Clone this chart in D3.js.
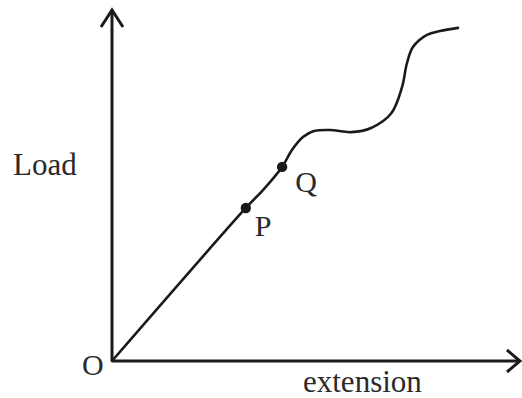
<!DOCTYPE html>
<html>
<head>
<meta charset="utf-8">
<script src="https://cdn.jsdelivr.net/npm/d3@7"></script>
<style>
  html, body { margin: 0; padding: 0; background: #fff; }
  svg { display: block; }
  text { font-family: "Liberation Serif", "Times New Roman", serif; fill: #2a2a2a; }
</style>
</head>
<body>
<svg id="chart" width="522" height="398"></svg>
<script>
// Curve (extension, load) in arbitrary units
const extension = [0, 32.8, 37.0, 41.7, 44.1, 46.8, 49.5, 53.4, 58.6, 63.5, 68.4, 71.1, 72.3, 73.8, 77.2, 80.4, 84.8];
const load      = [0, 43.6, 48.7, 55.3, 60.1, 63.8, 65.5, 65.8, 65.2, 66.4, 70.5, 78.1, 84.9, 89.5, 92.9, 94.0, 94.9];
// Marked points
const pointNames = ["P", "Q"];
const pointExt   = [32.8, 41.7];
const pointLoad  = [43.6, 55.3];
const axisLabels = { x: "extension", y: "Load", origin: "O" };

const svg = d3.select("#chart");
const x = d3.scaleLinear().domain([0, 100]).range([112, 520]);
const y = d3.scaleLinear().domain([0, 100]).range([361, 10]);

const ink = "#1a1a1a";

// Axes lines
svg.append("line")
  .attr("x1", x(0)).attr("y1", y(0)).attr("x2", x(100)).attr("y2", y(0))
  .attr("stroke", ink).attr("stroke-width", 3);
svg.append("line")
  .attr("x1", x(0)).attr("y1", y(0)).attr("x2", x(0)).attr("y2", y(100))
  .attr("stroke", ink).attr("stroke-width", 3);

// Arrow heads (open chevrons)
svg.append("path")
  .attr("d", `M${x(100) - 13},${y(0) - 11} L${x(100)},${y(0)} L${x(100) - 13},${y(0) + 11}`)
  .attr("fill", "none").attr("stroke", ink).attr("stroke-width", 3)
  .attr("stroke-linejoin", "miter");
svg.append("path")
  .attr("d", `M${x(0) - 11},${y(100) + 17} L${x(0)},${y(100)} L${x(0) + 11},${y(100) + 17}`)
  .attr("fill", "none").attr("stroke", ink).attr("stroke-width", 3)
  .attr("stroke-linejoin", "miter");

// Curve
const data = extension.map((e, i) => [e, load[i]]);
const line = d3.line()
  .x(d => x(d[0])).y(d => y(d[1]))
  .curve(d3.curveCatmullRom.alpha(0.5));
svg.append("path")
  .attr("d", line(data))
  .attr("fill", "none").attr("stroke", ink).attr("stroke-width", 2.6)
  .attr("stroke-linecap", "round");

// Points
svg.selectAll("circle.pt").data(pointNames).enter().append("circle")
  .attr("class", "pt")
  .attr("cx", (d, i) => x(pointExt[i]))
  .attr("cy", (d, i) => y(pointLoad[i]))
  .attr("r", 5.2)
  .attr("fill", ink);

// Point labels
const labelOffsets = { P: [9, 28], Q: [13, 25] };
svg.selectAll("text.pl").data(pointNames).enter().append("text")
  .attr("class", "pl")
  .attr("x", (d, i) => x(pointExt[i]) + labelOffsets[d][0])
  .attr("y", (d, i) => y(pointLoad[i]) + labelOffsets[d][1])
  .attr("font-size", 30)
  .text(d => d);

// Axis labels
svg.append("text").attr("x", 13).attr("y", 175).attr("font-size", 31).text(axisLabels.y);
svg.append("text").attr("x", 303).attr("y", 392).attr("font-size", 31).text(axisLabels.x);
svg.append("text").attr("x", 82).attr("y", 375).attr("font-size", 30).text(axisLabels.origin);
</script>
</body>
</html>
